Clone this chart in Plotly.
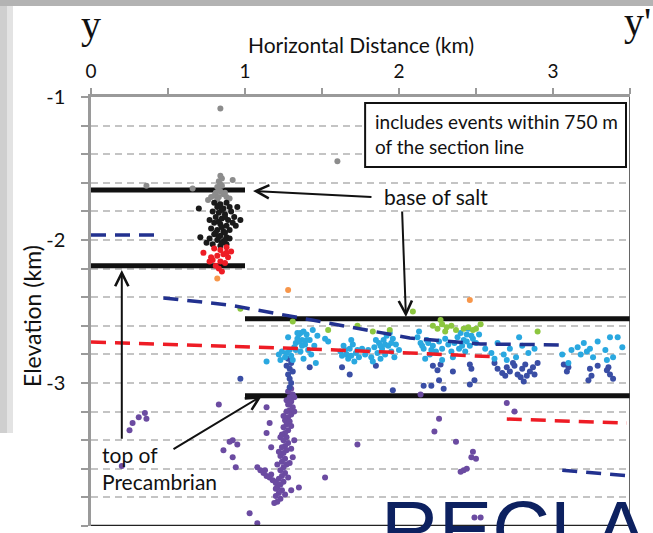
import plotly.graph_objects as go

# ---------------- data (km) ----------------
gray_x = [0.84, 0.36, 0.66, 0.92, 1.60, 0.83, 0.84, 0.82, 0.85, 0.83, 0.81, 0.84, 0.86, 0.80, 0.78, 0.83, 0.88, 0.87, 0.90, 0.76, 0.82, 0.85, 0.84]
gray_y = [-1.08, -1.62, -1.64, -1.58, -1.45, -1.59, -1.61, -1.63, -1.62, -1.65, -1.67, -1.66, -1.68, -1.69, -1.70, -1.70, -1.70, -1.67, -1.71, -1.72, -1.72, -1.57, -1.55]

black_x = [0.70, 0.71, 0.75, 0.95, 0.97, 0.94, 0.80, 0.84, 0.88, 0.82, 0.86, 0.90, 0.79, 0.83, 0.87, 0.91, 0.81, 0.85, 0.89,
           0.80, 0.84, 0.88, 0.92, 0.78, 0.82, 0.86, 0.90, 0.80, 0.84, 0.88, 0.77, 0.82, 0.86, 0.90, 0.79, 0.84, 0.88, 0.93, 0.77,
           0.83, 0.85, 0.87, 0.83, 0.85, 0.87, 0.83, 0.85, 0.81, 0.87]
black_y = [-1.78, -1.98, -2.02, -1.77, -1.86, -1.90, -1.74, -1.75, -1.74, -1.77, -1.78, -1.77, -1.80, -1.81, -1.82, -1.80, -1.84, -1.85, -1.86,
           -1.88, -1.89, -1.90, -1.88, -1.92, -1.93, -1.94, -1.93, -1.96, -1.97, -1.98, -1.99, -2.00, -2.01, -1.99, -2.03, -2.04, -2.03, -1.84, -1.86,
           -1.76, -1.79, -1.84, -1.87, -1.91, -1.95, -1.98, -2.02, -1.95, -2.00]

red_x = [0.73, 0.80, 0.84, 0.88, 0.91, 0.86, 0.82, 0.89, 0.79, 0.84, 0.87, 0.81, 0.77, 0.83, 0.85, 0.88, 0.78]
red_y = [-2.09, -2.06, -2.07, -2.05, -2.08, -2.10, -2.11, -2.12, -2.14, -2.15, -2.16, -2.18, -2.15, -2.20, -2.22, -2.09, -2.12]

orange_x = [0.82, 1.28, 2.46]
orange_y = [-2.27, -2.35, -2.42]

green_x = [0.97, 1.31, 1.54, 1.73, 1.83, 1.94, 2.09, 2.27, 2.22, 2.25, 2.28, 2.31, 2.34, 2.37, 2.30, 2.42, 2.45, 2.48, 2.50, 2.53, 2.90]
green_y = [-2.48, -2.57, -2.63, -2.60, -2.64, -2.63, -2.50, -2.56, -2.60, -2.62, -2.59, -2.61, -2.60, -2.63, -2.64, -2.62, -2.61, -2.63, -2.62, -2.59, -2.64]

lblue_x = [1.14, 1.22, 1.24, 1.26, 1.27, 1.29, 1.30, 1.32, 1.33, 1.34, 1.35, 1.36, 1.38, 1.40, 1.37, 1.39, 1.41, 1.43, 1.36, 1.31, 1.42, 1.45,
           1.47, 1.44, 1.28, 1.23, 1.38, 1.46, 1.34, 1.52, 1.54,
           1.62, 1.64, 1.66, 1.68, 1.70, 1.72, 1.74, 1.67, 1.63, 1.71, 1.76, 1.69,
           1.78, 1.80, 1.82, 1.84, 1.86, 1.87, 1.89, 1.90, 1.92, 1.94, 1.96, 1.93, 1.95, 1.98, 2.00, 1.88, 1.83, 1.97, 1.91, 1.85,
           2.12, 2.14, 2.16, 2.18, 2.20, 2.22, 2.24, 2.17, 2.26, 2.28, 2.30, 2.32, 2.34, 2.36, 2.38, 2.40, 2.42, 2.44, 2.46, 2.48,
           2.50, 2.43, 2.39, 2.45, 2.35, 2.52, 2.28, 2.13,
           2.56, 2.60, 2.64, 2.68, 2.72, 2.76, 2.80, 2.84, 2.88, 2.62, 2.78, 2.70,
           3.06, 3.12, 3.16, 3.18, 3.20, 3.22, 3.26, 3.29, 3.34, 3.37, 3.42, 3.45, 3.35, 3.39, 3.10, 3.24,
           1.33, 1.37, 1.40, 1.35, 1.65, 1.69, 1.73, 1.88, 1.91, 1.95, 2.15, 2.19, 2.41, 2.44, 2.47, 2.21]
lblue_y = [-2.85, -2.80, -2.78, -2.82, -2.79, -2.77, -2.81, -2.75, -2.72, -2.69, -2.66, -2.65, -2.64, -2.66, -2.70, -2.73, -2.77, -2.80, -2.78, -2.84, -2.70, -2.74,
           -2.67, -2.63, -2.68, -2.84, -2.83, -2.86, -2.65, -2.69, -2.71,
           -2.78, -2.74, -2.80, -2.76, -2.73, -2.79, -2.82, -2.83, -2.81, -2.85, -2.76, -2.70,
           -2.80, -2.77, -2.82, -2.75, -2.79, -2.72, -2.76, -2.70, -2.67, -2.65, -2.69, -2.74, -2.78, -2.73, -2.77, -2.83, -2.85, -2.82, -2.80, -2.70,
           -2.68, -2.72, -2.76, -2.70, -2.80, -2.74, -2.78, -2.83, -2.71, -2.76, -2.69, -2.73, -2.78, -2.72, -2.68, -2.65, -2.70, -2.66, -2.74, -2.69,
           -2.72, -2.78, -2.76, -2.62, -2.82, -2.66, -2.84, -2.64,
           -2.76, -2.79, -2.72, -2.80, -2.76, -2.82, -2.74, -2.79, -2.76, -2.83, -2.68, -2.84,
           -2.80, -2.77, -2.75, -2.80, -2.72, -2.78, -2.82, -2.71, -2.77, -2.68, -2.68, -2.75, -2.84, -2.82, -2.86, -2.76,
           -2.77, -2.74, -2.70, -2.71, -2.77, -2.81, -2.77, -2.74, -2.73, -2.72, -2.74, -2.72, -2.74, -2.71, -2.67, -2.77]

dblue_x = [0.97, 1.28, 1.30, 1.27, 1.29, 1.31, 1.28, 1.29, 1.30, 1.29, 1.42, 1.63, 1.68, 1.85, 1.96, 2.16, 2.21, 2.26, 2.29, 2.22, 2.27, 2.25,
           2.35, 2.46, 2.47, 2.49, 2.46, 2.62, 2.64, 2.67, 2.70, 2.72, 2.75, 2.77, 2.80, 2.82, 2.85, 2.87, 2.90, 2.69, 2.79, 2.88, 2.74, 2.83,
           2.81, 3.07, 3.09, 3.10, 3.24, 3.25, 3.23, 3.29, 3.35, 3.37, 3.39, 3.36]
dblue_y = [-2.97, -2.83, -2.86, -2.88, -2.90, -2.92, -2.94, -2.97, -3.00, -3.03, -2.89, -2.89, -2.94, -2.88, -3.05, -3.02, -3.02, -2.98, -3.04, -2.88, -2.87, -2.91,
           -2.92, -2.87, -2.90, -2.98, -3.01, -2.86, -2.90, -2.93, -2.89, -2.92, -2.88, -2.94, -2.90, -2.87, -2.92, -2.89, -2.86, -2.95, -2.96, -2.94, -2.86, -2.95,
           -2.99, -2.87, -2.92, -2.89, -2.90, -2.95, -2.98, -2.88, -2.91, -2.94, -2.97, -2.89]

purple_x = [1.30, 1.28, 1.31, 1.29, 1.27, 1.30, 1.28, 1.31, 1.29, 1.27, 1.30, 1.28, 1.26, 1.29, 1.27, 1.25, 1.28, 1.26, 1.24, 1.27, 1.25, 1.28,
            1.26, 1.24, 1.27, 1.25, 1.23, 1.26, 1.24, 1.27, 1.25, 1.23, 1.26, 1.24, 1.22, 1.25, 1.23, 1.21, 1.24, 1.22, 1.20, 1.23, 1.21, 1.19,
            1.32, 1.29, 1.32, 1.25, 1.30, 1.23, 1.30, 1.22, 1.29, 1.21, 1.28, 1.20, 1.26, 1.20,
            1.08, 1.10, 1.12, 1.14, 1.16, 1.18, 1.20, 1.13, 1.17,
            1.32, 1.31, 1.35, 1.30, 1.52, 1.03, 1.08, 0.83, 1.14, 1.16, 1.14, 1.17, 0.92, 0.90, 0.95, 0.86, 0.92, 0.94, 1.73,
            0.25, 0.27, 0.31, 0.35, 0.36, 0.20,
            2.70, 2.75, 2.26, 2.23, 2.37, 2.48, 2.47, 2.50, 2.42, 2.40, 2.44, 2.49, 2.53, 2.14]
purple_y = [-3.04, -3.06, -3.08, -3.10, -3.12, -3.13, -3.15, -3.17, -3.19, -3.20, -3.22, -3.24, -3.26, -3.27, -3.29, -3.31, -3.33, -3.35, -3.36, -3.38, -3.40, -3.42,
            -3.44, -3.45, -3.47, -3.49, -3.51, -3.53, -3.55, -3.57, -3.59, -3.61, -3.63, -3.65, -3.67, -3.69, -3.71, -3.73, -3.75, -3.77, -3.79, -3.81, -3.83, -3.84,
            -3.10, -3.14, -3.20, -3.23, -3.30, -3.38, -3.46, -3.48, -3.56, -3.57, -3.66, -3.70, -3.78, -3.74,
            -3.59, -3.61, -3.63, -3.65, -3.66, -3.68, -3.69, -3.61, -3.64,
            -3.40, -3.52, -3.73, -3.75, -3.66, -3.91, -3.98, -3.15, -3.17, -3.28, -3.35, -3.45, -3.40, -3.41, -3.43, -3.47, -3.52, -3.59, -3.43,
            -3.33, -3.28, -3.24, -3.21, -3.25, -3.58,
            -3.14, -3.20, -3.25, -3.34, -3.41, -3.48, -3.52, -3.53, -3.61, -3.62, -3.60, -3.94, -3.94, -3.08]

# formation horizons (thick black lines): x-start, x-end, elevation
horizon_x0 = [0.0, 0.0, 1.0, 1.0]
horizon_x1 = [1.0, 1.0, 3.5, 3.5]
horizon_y = [-1.65, -2.18, -2.55, -3.09]

# dashed model surfaces
blue1_x = [0.0, 0.45]
blue1_y = [-1.965, -1.965]
blue2_x = [0.47, 0.90, 1.435, 2.07, 2.53, 3.06]
blue2_y = [-2.405, -2.455, -2.56, -2.685, -2.727, -2.734]
blue3_x = [3.06, 3.50]
blue3_y = [-3.61, -3.65]
red1_x = [0.0, 1.25, 2.07, 2.64]
red1_y = [-2.713, -2.755, -2.79, -2.818]
red2_x = [2.70, 3.48]
red2_y = [-3.252, -3.28]

FONT = "Lato, 'Open Sans', sans-serif"

fig = go.Figure()

for x0, x1, y in zip(horizon_x0, horizon_x1, horizon_y):
    fig.add_trace(go.Scatter(x=[x0, x1], y=[y, y], mode="lines",
                             line=dict(color="#111111", width=5), hoverinfo="skip", showlegend=False))

def pts(xs, ys, color):
    fig.add_trace(go.Scatter(x=xs, y=ys, mode="markers", marker=dict(size=6, color=color),
                             hoverinfo="skip", showlegend=False))

pts(gray_x, gray_y, "#8c8c8c")
pts(black_x, black_y, "#1a1a1a")
pts(red_x, red_y, "#ee1c25")
pts(orange_x, orange_y, "#f7964a")
pts(purple_x, purple_y, "#6b4ba1")
pts(dblue_x, dblue_y, "#3a4ea5")
pts(lblue_x, lblue_y, "#2aa8e0")
pts(green_x, green_y, "#8cc63f")

def dline(xs, ys, color):
    fig.add_trace(go.Scatter(x=xs, y=ys, mode="lines",
                             line=dict(color=color, width=3.5, dash="15px,9px"),
                             hoverinfo="skip", showlegend=False))

dline(blue1_x, blue1_y, "#22318f")
dline(blue2_x, blue2_y, "#22318f")
dline(blue3_x, blue3_y, "#22318f")
dline(red1_x, red1_y, "#ee1c25")
dline(red2_x, red2_y, "#ee1c25")

def px2paperx(px):
    return (px - 91) / 539.0

def px2papery(py):
    return (526 - py) / 429.0

shapes = [
    # slide background strips
    dict(type="rect", xref="paper", yref="paper", x0=px2paperx(0), x1=px2paperx(653), y0=px2papery(6), y1=px2papery(0),
         fillcolor="#b3b3b3", line=dict(width=0), layer="below"),
    dict(type="rect", xref="paper", yref="paper", x0=px2paperx(0), x1=px2paperx(7), y0=px2papery(433), y1=px2papery(6),
         fillcolor="#cfcfcf", line=dict(width=0), layer="below"),
    dict(type="rect", xref="paper", yref="paper", x0=px2paperx(7), x1=px2paperx(13), y0=px2papery(433), y1=px2papery(6),
         fillcolor="#e3e3e3", line=dict(width=0), layer="below"),
    # frame right / bottom
    dict(type="line", xref="x", yref="y", x0=3.5, x1=3.5, y0=-4, y1=-0.97, line=dict(color="#333333", width=1.5)),
    dict(type="line", xref="x", yref="y", x0=0, x1=3.5, y0=-4, y1=-4, line=dict(color="#222222", width=2.5)),
    # text box
    dict(type="rect", xref="x", yref="y", x0=1.78, x1=3.474, y0=-1.49, y1=-1.042,
         fillcolor="white", line=dict(color="#111111", width=2), layer="above"),
]

ann = []
def txt(x, y, s, size, **kw):
    d = dict(x=x, y=y, text=s, showarrow=False, font=dict(family=FONT, size=size, color="#111111"),
             xanchor="left", yanchor="middle")
    d.update(kw)
    ann.append(d)

txt(1.83, -1.168, "includes events within 750 m", 19)
txt(1.83, -1.343, "of the section line", 19)
txt(1.89, -1.699, "base of salt", 21)
txt(0.058, -3.497, "top of", 21)
txt(0.058, -3.692, "Precambrian", 21)

# axis titles
ann.append(dict(xref="paper", yref="paper", x=0.5, y=px2papery(44), text="Horizontal Distance (km)", showarrow=False,
                font=dict(family=FONT, size=21, color="#111111"), xanchor="center", yanchor="middle"))
ann.append(dict(xref="paper", yref="paper", x=px2paperx(32), y=px2papery(316), text="Elevation (km)", showarrow=False,
                textangle=-90, font=dict(family=FONT, size=23, color="#111111"), xanchor="center", yanchor="middle"))

def arrow(xt, yt, xh, yh):
    ann.append(dict(x=xh, y=yh, ax=xt, ay=yt, xref="x", yref="y", axref="x", ayref="y", text="",
                    showarrow=True, arrowhead=5, arrowsize=1.3, arrowwidth=2, arrowcolor="#111111"))

arrow(1.831, -1.699, 1.052, -1.657)
arrow(2.02, -1.79, 2.045, -2.538)
arrow(0.20, -3.40, 0.20, -2.21)
arrow(0.526, -3.469, 1.11, -3.09)

ann.append(dict(xref="paper", yref="paper", x=px2paperx(91), y=px2papery(25), text="y", showarrow=False,
                font=dict(family="Liberation Serif, serif", size=40, color="#111111"), xanchor="center", yanchor="middle"))
ann.append(dict(xref="paper", yref="paper", x=px2paperx(653), y=px2papery(21), text="y'", showarrow=False,
                font=dict(family="Liberation Serif, serif", size=40, color="#111111"), xanchor="right", yanchor="middle"))
ann.append(dict(xref="paper", yref="paper", x=px2paperx(379), y=px2papery(483), text="RECLAM", showarrow=False,
                font=dict(family="Liberation Sans, Arial, sans-serif", size=80, color="#0d2160"),
                xanchor="left", yanchor="top"))

fig.update_layout(
    width=653, height=533,
    margin=dict(l=91, r=23, t=97, b=7),
    paper_bgcolor="white", plot_bgcolor="white",
    font=dict(family=FONT, size=18, color="#111111"),
    shapes=shapes, annotations=ann,
    xaxis=dict(range=[0, 3.5], side="top", tickvals=[0, 1, 2, 3], ticktext=["0", "1", "2", "3"],
               showline=True, linecolor="#9a9a9a", linewidth=2.5, ticks="outside", ticklen=6,
               tickcolor="#9a9a9a", tickwidth=2, showgrid=False, zeroline=False,
               minor=dict(tickvals=[0.5, 1.5, 2.5, 3.5], ticks="outside", ticklen=6, tickcolor="#9a9a9a", tickwidth=2, showgrid=False),
               ticklabelstandoff=3, tickfont=dict(size=19)),
    yaxis=dict(range=[-4, -1], tickvals=[-1, -2, -3, -4], ticktext=["-1", "-2", "-3", "-4"],
               showline=True, linecolor="#9a9a9a", linewidth=2.5, ticks="outside", ticklen=7,
               tickcolor="#9a9a9a", tickwidth=2, zeroline=False,
               showgrid=True, gridcolor="#c4c4c4", gridwidth=2, griddash="7px,5px",
               minor=dict(dtick=0.2, tick0=-4, ticks="outside", ticklen=7, tickcolor="#9a9a9a", tickwidth=2,
                          showgrid=True, gridcolor="#c4c4c4", gridwidth=2, griddash="7px,5px"),
               ticklabelstandoff=12, tickfont=dict(size=20)),
)

fig.write_html("out.html")
